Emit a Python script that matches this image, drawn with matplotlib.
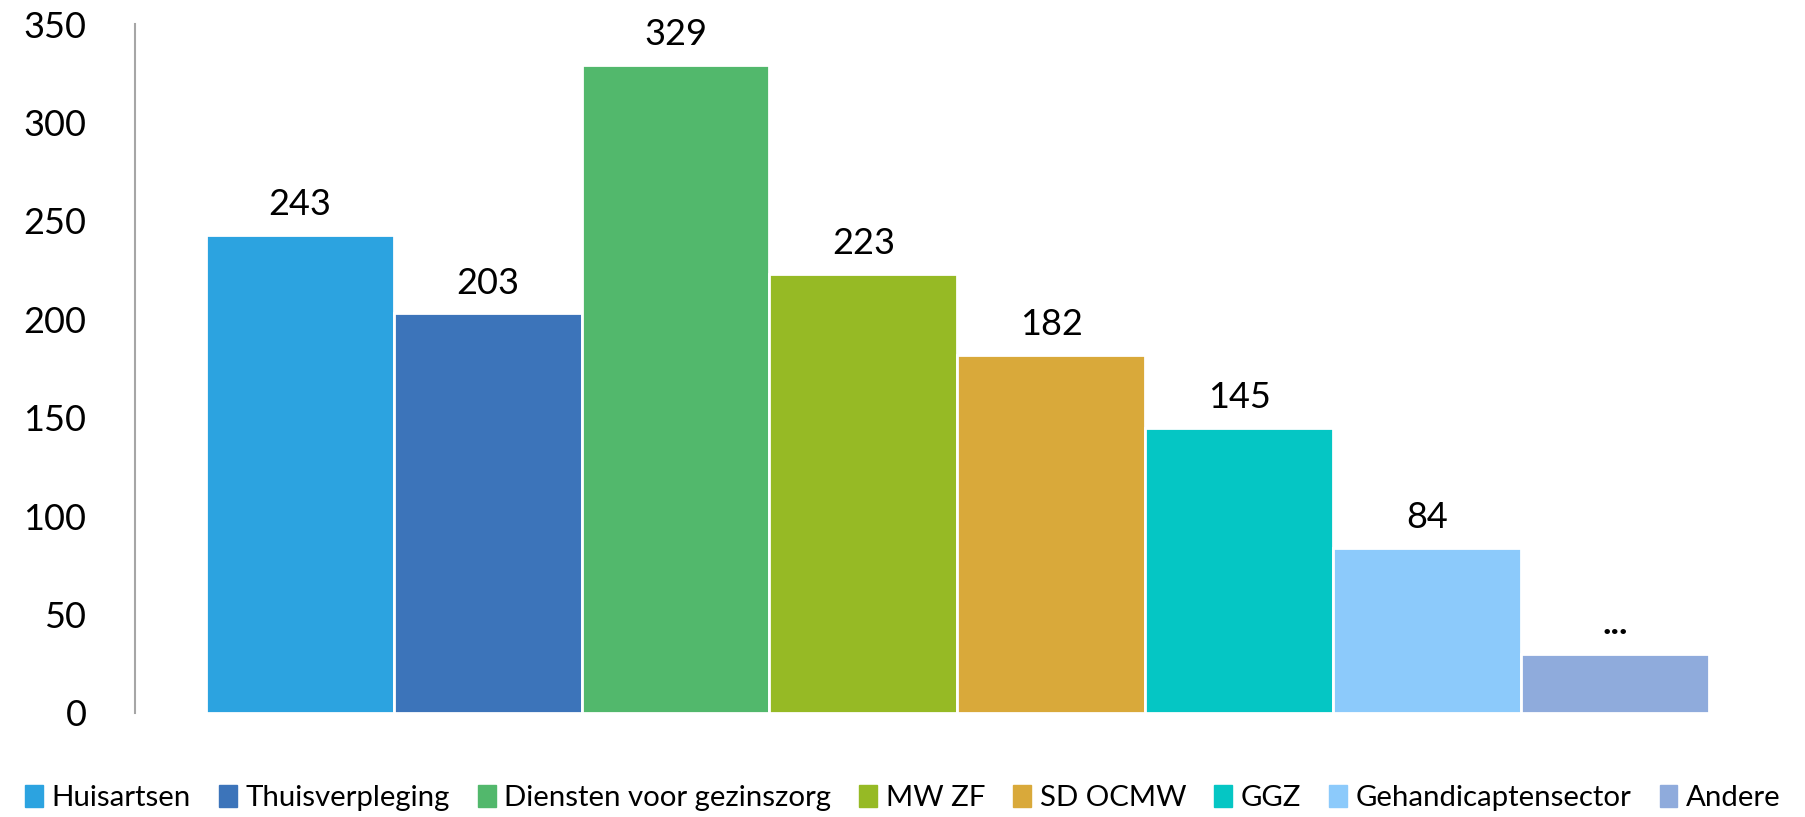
import matplotlib.pyplot as plt

# data
categories = ['Huisartsen', 'Thuisverpleging', 'Diensten voor gezinszorg', 'MW ZF',
              'SD OCMW', 'GGZ', 'Gehandicaptensector', 'Andere']
values = [243, 203, 329, 223, 182, 145, 84, 30]
value_labels = ['243', '203', '329', '223', '182', '145', '84', '...']
colors = ['#2CA3E0', '#3C74BA', '#52B86C', '#96BA25', '#D9A93A', '#05C6C4', '#8CCAFB', '#8FABDC']
yticks = [0, 50, 100, 150, 200, 250, 300, 350]

plt.rcParams['font.family'] = ['Lato', 'DejaVu Sans']

fig = plt.figure(figsize=(18.06, 8.17), dpi=100)
ax = fig.add_axes([0.0748, 0.1273, 0.9107, 0.8433])

x = list(range(len(categories)))
ax.bar(x, values, width=1.0, color=colors, edgecolor='white', linewidth=2)

# value labels above the bars
for xi, v, lab in zip(x, values, value_labels):
    weight = 'bold' if lab == '...' else 'normal'
    ax.annotate(lab, (xi, v), xytext=(0, 10), textcoords='offset points',
                ha='center', va='bottom', fontsize=26, color='black', fontweight=weight)

ax.set_xlim(-0.875, 7.875)
ax.set_ylim(0, 350)
ax.set_yticks(yticks)
ax.tick_params(axis='y', length=0, pad=35, labelsize=26)
ax.set_xticks([])
for s in ['top', 'right', 'bottom']:
    ax.spines[s].set_visible(False)
ax.spines['left'].set_color('#A6A6A6')
ax.spines['left'].set_linewidth(1.5)

handles = [plt.Rectangle((0, 0), 1, 1, color=c) for c in colors]
fig.legend(handles, categories, loc='center', bbox_to_anchor=(0.5, 0.023), ncol=8,
           frameon=False, fontsize=21.2, handlelength=0.6, handleheight=0.8,
           handletextpad=0.3, columnspacing=0.95, borderaxespad=0)

fig.savefig('out.png', dpi=100)
